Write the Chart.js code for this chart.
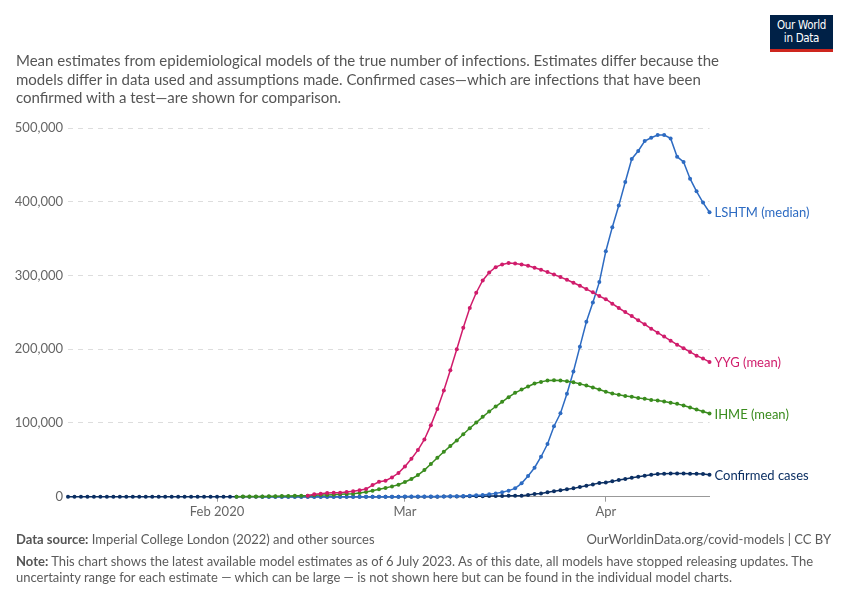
<!DOCTYPE html>
<html>
<head>
<meta charset="utf-8">
<script src="https://cdn.jsdelivr.net/npm/chart.js@4"></script>
<style>
  body { margin: 0; width: 850px; height: 600px; background: #fff; font-family: Lato, "Noto Sans", sans-serif; overflow: hidden; }
  #wrap { position: absolute; left: 0; top: 0; width: 850px; height: 600px; }
  .subtitle { position: absolute; left: 16px; top: 51px; width: 740px; font-size: 15px; line-height: 18.7px; color: #555; }
  .logo { position: absolute; left: 770px; top: 15px; width: 63px; background: #002147; border-bottom: 3px solid #ce261e;
          color: #fff; font-family: "DejaVu Sans Condensed", "Liberation Sans Narrow", sans-serif; font-size: 11.5px; line-height: 12.5px; text-align: center; padding-top: 4px; box-sizing: content-box; height: 30px; letter-spacing: -0.3px; }
  .foot { position: absolute; font-size: 13px; color: #5b5b5b; line-height: 15.5px; }
  .foot b { color: #555; }
</style>
</head>
<body>
<div id="wrap"><canvas id="chart1" width="850" height="600"></canvas></div>
<div class="logo">Our World<br>in Data</div>
<div class="subtitle">Mean estimates from epidemiological models of the true number of infections. Estimates differ because the models differ in data used and assumptions made. Confirmed cases—which are infections that have been confirmed with a test—are shown for comparison.</div>
<div class="foot" style="left:16px; top:532px;"><b>Data source:</b> Imperial College London (2022) and other sources</div>
<div class="foot" style="right:19px; top:532px;">OurWorldinData.org/covid-models | CC BY</div>
<div class="foot" style="left:16px; top:554px; width:820px;"><b>Note:</b> This chart shows the latest available model estimates as of 6 July 2023. As of this date, all models have stopped releasing updates. The uncertainty range for each estimate — which can be large — is not shown here but can be found in the individual model charts.</div>
<script>
// day 0 = 9 Jan 2020, last day = 17 Apr 2020
const DAY_MAX = 99;
const tickDays = [23, 52, 83];
const tickLabels = ["Feb 2020", "Mar", "Apr"];

// Confirmed cases, from day 0
const confirmedStart = 0;
const confirmed = [
  0, 0, 0, 0, 0, 0, 0, 0, 0, 0, 0, 0, 0, 0, 0, 0, 0, 0, 0, 0,
  0, 0, 0, 0, 0, 0, 0, 0, 0, 0, 0, 0, 0, 0, 0, 0, 0, 0, 0, 0,
  0, 0, 0, 0, 0, 0, 0, 0, 0, 0, 0, 0, 10, 20, 30, 40, 60, 80, 120, 180,
  250, 350, 450, 550, 700, 850, 1000, 1100, 1200, 1300, 1400, 2300, 3700, 4500, 5900, 7300, 8600, 10000, 11300, 13100,
  14900, 16700, 18500, 19400, 20800, 22600, 24000, 25800, 27100, 28500, 29800, 30700, 31200, 31600, 31600, 31600, 31200, 31200, 30700, 29800
];

// LSHTM (median), from day 30
const lshtmStart = 30;
const lshtm = [
  0, 0, 0, 0, 0, 0, 0, 0, 0, 0, 0, 0, 0, 0, 0, 0, 0, 0, 0, 0,
  100, 100, 150, 200, 200, 250, 300, 350, 400, 500, 700, 900, 1400, 1800, 2300, 3200, 4500, 6000, 8200, 11300,
  18100, 28000, 39300, 54200, 71500, 95500, 113200, 139700, 169700, 203500, 237300, 263500, 291000, 332800, 365500, 394800, 426800, 458000, 468800, 482300,
  486800, 490500, 490500, 485900, 461100, 453900, 431300, 414200, 398900, 385800
];

// YYG (mean), from day 37
const yygStart = 37;
const yyg = [
  1400, 3200, 4100, 5000, 5500, 5500, 6400, 7300, 8600, 10400, 15800, 20300, 21700, 26200, 32100, 41100, 51500, 63200, 77600, 97000,
  119100, 144000, 171500, 199900, 229200, 255900, 276600, 293300, 304100, 311300, 315000, 316800, 316300, 315000, 313200, 310500, 307700, 304600, 301400, 297800,
  294200, 290100, 286100, 281600, 277100, 272100, 267800, 261700, 255900, 250400, 245000, 239200, 233800, 227900, 222500, 217100, 211600, 206200, 201300, 196300,
  191300, 187300, 182800
];

// IHME (mean), from day 26
const ihmeStart = 26;
const ihme = [
  100, 150, 200, 300, 400, 500, 600, 800, 1000, 1200, 1400, 1400, 1800, 2300, 2300, 2700, 3200, 3700, 4100, 5000,
  6400, 8200, 10000, 11800, 14000, 16300, 19900, 24000, 29400, 36100, 44300, 52800, 60900, 68600, 76300, 84600, 92800, 100500, 108300, 115500,
  122300, 128600, 134900, 140800, 145300, 149400, 153400, 155700, 157500, 157900, 157500, 156600, 155200, 153000, 150700, 148000, 145300, 142400, 139900, 138100,
  136700, 135400, 134000, 132700, 131300, 130400, 129100, 127300, 125900, 123700, 121000, 118300, 115500, 112800
];

const SERIES = [
  { name: "YYG (mean)", start: yygStart, values: yyg, color: "#d01c6b", order: 0 },
  { name: "IHME (mean)", start: ihmeStart, values: ihme, color: "#3a8c1e", order: 1 },
  { name: "LSHTM (median)", start: lshtmStart, values: lshtm, color: "#2d6bc2", order: 2 },
  { name: "Confirmed cases", start: confirmedStart, values: confirmed, color: "#0b2f63", order: 3 }
];

const endLabels = {
  id: "endLabels",
  afterDatasetsDraw(chart) {
    const ctx = chart.ctx;
    ctx.save();
    ctx.font = "13px Lato";
    ctx.textBaseline = "middle";
    chart.data.datasets.forEach((ds, i) => {
      const pts = chart.getDatasetMeta(i).data;
      const last = pts[pts.length - 1];
      ctx.fillStyle = ds.borderColor;
      ctx.fillText(ds.label, last.x + 5, last.y + 1);
    });
    ctx.restore();
  }
};

new Chart(document.getElementById("chart1"), {
  type: "line",
  data: {
    datasets: SERIES.map(s => ({
      label: s.name,
      data: s.values.map((v, i) => ({ x: s.start + i, y: v })),
      borderColor: s.color,
      backgroundColor: s.color,
      pointBackgroundColor: s.color,
      pointBorderWidth: 0,
      pointRadius: 2,
      borderWidth: 1.5,
      tension: 0,
      order: s.order,
      clip: false
    }))
  },
  options: {
    responsive: false,
    animation: false,
    devicePixelRatio: 1,
    layout: { padding: { top: 128, right: 140.5, left: 0, bottom: 0 } },
    plugins: { legend: { display: false }, tooltip: { enabled: false } },
    scales: {
      x: {
        type: "linear",
        min: 0,
        max: DAY_MAX,
        afterBuildTicks: s => { s.ticks = tickDays.map(v => ({ value: v })); },
        afterFit: s => { s.height = 103.3; },
        ticks: {
          autoSkip: false,
          maxRotation: 0,
          padding: 2,
          color: "#666",
          font: { family: "Lato", size: 13 },
          callback: v => tickLabels[tickDays.indexOf(v)]
        },
        grid: { drawOnChartArea: false, drawTicks: true, tickLength: 5, color: "#999" },
        border: { display: true, color: "#999", width: 1 }
      },
      y: {
        min: 0,
        max: 500000,
        afterFit: s => { s.width = 68; },
        ticks: {
          stepSize: 100000,
          padding: 5,
          color: "#666",
          font: { family: "Lato", size: 13 },
          callback: v => v.toLocaleString("en-US")
        },
        grid: { color: "#dddddd", drawTicks: false, lineWidth: 1 },
        border: { display: false, dash: [5, 5] }
      }
    }
  },
  plugins: [endLabels]
});
</script>
</body>
</html>
